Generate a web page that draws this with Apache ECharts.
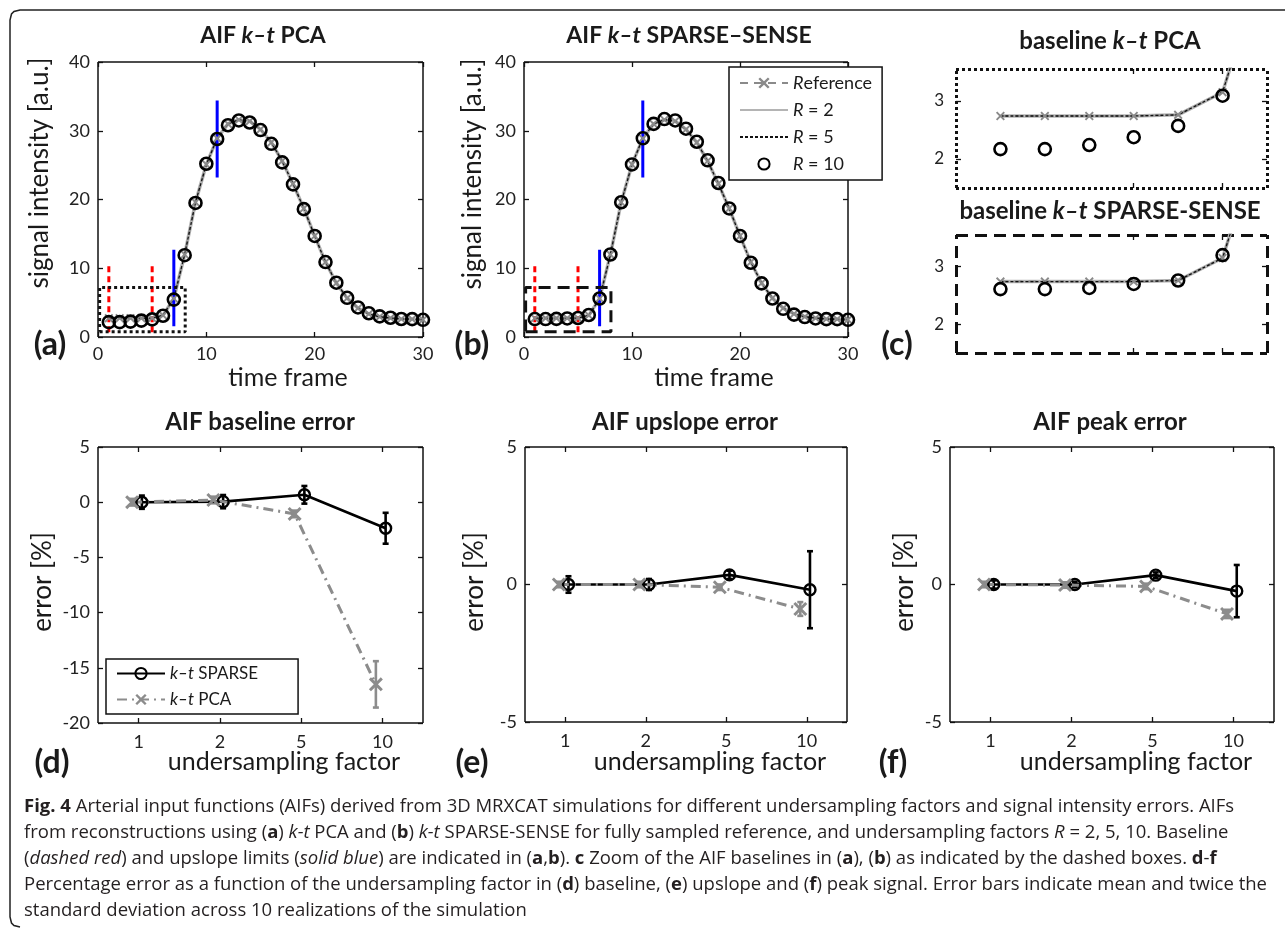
<!DOCTYPE html>
<html>
<head>
<meta charset="utf-8">
<script src="https://cdn.jsdelivr.net/npm/echarts@6/dist/echarts.min.js"></script>
<style>
html, body { margin: 0; padding: 0; background: #fff; }
#chart { width: 1285px; height: 929px; }
</style>
</head>
<body>
<div id="chart"></div>
<script>
// ---- AIF curves (panels a-c) ----
const frames = [1, 2, 3, 4, 5, 6, 7, 8, 9, 10, 11, 12, 13, 14, 15, 16, 17, 18, 19, 20, 21, 22, 23, 24, 25, 26, 27, 28, 29, 30];
// fully sampled reference; R = 2 and R = 5 lie on top of it
const refSignal = [2.74, 2.74, 2.74, 2.74, 2.76, 3.15, 5.6, 12.0, 19.6, 25.1, 28.9, 31.0, 31.6, 31.4, 30.2, 28.3, 25.6, 22.3, 18.7, 14.7, 10.9, 7.85, 5.65, 4.2, 3.35, 2.95, 2.75, 2.62, 2.6, 2.52];
const pcaR10 = [2.17, 2.17, 2.24, 2.375, 2.57, 3.09, 5.44, 11.9, 19.5, 25.2, 28.8, 30.8, 31.5, 31.2, 30.1, 28.1, 25.4, 22.2, 18.6, 14.7, 10.9, 7.9, 5.7, 4.3, 3.45, 3.0, 2.8, 2.62, 2.6, 2.5];
const sparseR10 = [2.61, 2.61, 2.63, 2.70, 2.76, 3.20, 5.6, 12.0, 19.6, 25.1, 28.9, 31.0, 31.7, 31.5, 30.3, 28.4, 25.7, 22.4, 18.7, 14.7, 10.8, 7.8, 5.6, 4.1, 3.25, 2.9, 2.7, 2.6, 2.6, 2.5];

const baselineFrames = [1, 5];
const baselineRange = [0.7, 10.3];
const upslopeFrames = [7, 11];
const upslopeRanges = [[1.55, 12.7], [23.2, 34.4]];
const zoomBoxX = [0.15, 8.05];
const zoomBoxY = [0.75, 7.2];

// ---- percentage errors (panels d-f) ----
const factors = ['1', '2', '5', '10'];
const baseSparseMean = [0, 0.05, 0.67, -2.36];
const baseSparseErr = [0.6, 0.6, 0.8, 1.4];
const basePcaMean = [0, 0.2, -1.06, -16.5];
const basePcaErr = [0.3, 0.3, 0.3, 2.1];
const upSparseMean = [0, 0, 0.35, -0.19];
const upSparseErr = [0.3, 0.2, 0.15, 1.4];
const upPcaMean = [0, 0, -0.1, -0.89];
const upPcaErr = [0.1, 0.1, 0.1, 0.25];
const peakSparseMean = [0, 0, 0.34, -0.24];
const peakSparseErr = [0.15, 0.1, 0.1, 0.95];
const peakPcaMean = [0, -0.02, -0.07, -1.07];
const peakPcaErr = [0.1, 0.1, 0.1, 0.15];

const FONT = 'Lato';
const CAPFONT = 'Open Sans';
const xSymbol = 'path://M0,1.5L1.5,0L5,3.5L8.5,0L10,1.5L6.5,5L10,8.5L8.5,10L5,6.5L1.5,10L0,8.5L3.5,5Z';

let grids = [], xAxes = [], yAxes = [], series = [];

function axisSpec(gi, pos, r, border, labelled) {
    let ax = {
        gridIndex: gi,
        type: 'value',
        position: pos,
        min: r.min,
        max: r.max,
        axisLine: { show: true, onZero: false, lineStyle: { color: '#111', width: border.width, type: border.type, cap: 'butt' } },
        axisTick: { show: true, inside: true, length: 5, lineStyle: { color: '#111', width: 1.3 } },
        axisLabel: { show: labelled, color: '#222', fontFamily: FONT, fontSize: r.fontSize || 18, margin: r.margin || 8 },
        splitLine: { show: false },
    };
    if (r.interval) ax.interval = r.interval;
    if (r.formatter) ax.axisLabel.formatter = r.formatter;
    if (r.ticks) {
        ax.axisTick.customValues = r.ticks;
        ax.axisLabel.customValues = r.ticks;
    }
    return ax;
}

function addPanel(rect, xr, yr, border) {
    let gi = grids.length;
    grids.push({ left: rect[0], top: rect[1], width: rect[2], height: rect[3] });
    let xi = xAxes.length, yi = yAxes.length;
    xAxes.push(axisSpec(gi, 'bottom', xr, border, xr.labels !== false));
    xAxes.push(axisSpec(gi, 'top', xr, border, false));
    yAxes.push(axisSpec(gi, 'left', yr, border, true));
    yAxes.push(axisSpec(gi, 'right', yr, border, false));
    return { xi: xi, yi: yi };
}

function pairs(xs, ys) {
    return xs.map(function (x, i) { return [x, ys[i]]; });
}

function aifSeries(p, r10) {
    let base = { type: 'line', xAxisIndex: p.xi, yAxisIndex: p.yi, silent: true, animation: false };
    // plain lines keep an invisible symbol so the legend shows only the line
    let noMark = { symbol: 'circle', showSymbol: false, itemStyle: { color: 'rgba(0,0,0,0)' } };
    series.push(Object.assign({}, base, noMark, {
        name: 'R = 2', data: pairs(frames, refSignal),
        lineStyle: { color: '#b4b4b4', width: 3.5 },
    }));
    series.push(Object.assign({}, base, {
        name: 'Reference', data: pairs(frames, refSignal), symbol: xSymbol, symbolSize: 9,
        lineStyle: { color: '#8a8a8a', width: 2, type: [8, 6] }, itemStyle: { color: '#8a8a8a' },
    }));
    series.push(Object.assign({}, base, noMark, {
        name: 'R = 5', data: pairs(frames, refSignal),
        lineStyle: { color: '#111', width: 1.3, type: [3, 2] },
    }));
    series.push(Object.assign({}, base, {
        name: 'R = 10', data: pairs(frames, r10), symbol: 'circle', symbolSize: 12,
        lineStyle: { width: 0, opacity: 0 },
        itemStyle: { color: 'rgba(0,0,0,0)', borderColor: '#000', borderWidth: 2.6 },
    }));
}

function limitLines(p) {
    baselineFrames.forEach(function (f) {
        series.push({
            type: 'line', xAxisIndex: p.xi, yAxisIndex: p.yi, silent: true, symbol: 'none',
            data: [[f, baselineRange[0]], [f, baselineRange[1]]],
            lineStyle: { color: '#ff0000', width: 3, type: [6, 4] },
        });
    });
    upslopeFrames.forEach(function (f, i) {
        series.push({
            type: 'line', xAxisIndex: p.xi, yAxisIndex: p.yi, silent: true, symbol: 'none',
            data: [[f, upslopeRanges[i][0]], [f, upslopeRanges[i][1]]],
            lineStyle: { color: '#0000ff', width: 3 },
        });
    });
}

function zoomBox(p, dash) {
    series.push({
        type: 'line', xAxisIndex: p.xi, yAxisIndex: p.yi, silent: true, symbol: 'none',
        data: [[zoomBoxX[0], zoomBoxY[0]], [zoomBoxX[1], zoomBoxY[0]], [zoomBoxX[1], zoomBoxY[1]],
               [zoomBoxX[0], zoomBoxY[1]], [zoomBoxX[0], zoomBoxY[0]]],
        lineStyle: { color: '#111', width: 3, type: dash },
    });
}

// panels a, b
const aifX = { min: 0, max: 30, interval: 10 };
const aifY = { min: 0, max: 40, interval: 10 };
const pA = addPanel([98, 62, 325, 275], aifX, aifY, { width: 1.5, type: 'solid' });
aifSeries(pA, pcaR10);
limitLines(pA);
zoomBox(pA, [3, 3]);

const pB = addPanel([524, 62, 324, 275], aifX, aifY, { width: 1.5, type: 'solid' });
aifSeries(pB, sparseR10);
limitLines(pB);
zoomBox(pB, [12, 7]);

// panel c: zoomed baselines
const zX = { min: 0, max: 7, ticks: [4, 6], labels: false };
const zY = { min: 1.5, max: 3.55, ticks: [2, 3], fontSize: 17, margin: 12 };
const pC1 = addPanel([956, 69, 311, 119], zX, zY, { width: 3, type: [3, 3] });
aifSeries(pC1, pcaR10);
const pC2 = addPanel([956, 235, 311, 118], zX, zY, { width: 3, type: [12, 7] });
aifSeries(pC2, sparseR10);

// panels d-f
function errorBars(p, xs, mean, err, color) {
    series.push({
        type: 'custom', xAxisIndex: p.xi, yAxisIndex: p.yi, silent: true,
        data: xs.map(function (x, i) { return [x, mean[i] - err[i], mean[i] + err[i]]; }),
        encode: { x: 0, y: [1, 2] },
        renderItem: function (params, api) {
            let lo = api.coord([api.value(0), api.value(1)]);
            let hi = api.coord([api.value(0), api.value(2)]);
            let st = { stroke: color, lineWidth: 2.6 };
            return {
                type: 'group',
                children: [
                    { type: 'line', shape: { x1: lo[0], y1: lo[1], x2: hi[0], y2: hi[1] }, style: st },
                    { type: 'line', shape: { x1: lo[0] - 3, y1: lo[1], x2: lo[0] + 3, y2: lo[1] }, style: st },
                    { type: 'line', shape: { x1: hi[0] - 3, y1: hi[1], x2: hi[0] + 3, y2: hi[1] }, style: st },
                ],
            };
        },
    });
}

function errorPanel(rect, yr, sMean, sErr, pMean, pErr) {
    let p = addPanel(rect, {
        min: 0.5, max: 4.5, ticks: [1, 2, 3, 4], margin: 10,
        formatter: function (v) { return factors[Math.round(v) - 1]; },
    }, yr, { width: 1.5, type: 'solid' });
    let xs = factors.map(function (f, i) { return i + 1.04; });
    let xp = factors.map(function (f, i) { return i + 0.92; });
    errorBars(p, xs, sMean, sErr, '#000');
    series.push({
        type: 'line', name: 'k–t SPARSE', xAxisIndex: p.xi, yAxisIndex: p.yi, silent: true,
        data: pairs(xs, sMean), symbol: 'circle', symbolSize: 11,
        lineStyle: { color: '#000', width: 2.6 },
        itemStyle: { color: 'rgba(0,0,0,0)', borderColor: '#000', borderWidth: 2.4 },
    });
    errorBars(p, xp, pMean, pErr, '#8c8c8c');
    series.push({
        type: 'line', name: 'k–t PCA', xAxisIndex: p.xi, yAxisIndex: p.yi, silent: true,
        data: pairs(xp, pMean), symbol: xSymbol, symbolSize: 14,
        lineStyle: { color: '#8c8c8c', width: 3, type: [10, 5, 2, 5] },
        itemStyle: { color: '#8c8c8c' },
    });
}

errorPanel([98, 447, 325, 276], { min: -20, max: 5, interval: 5 }, baseSparseMean, baseSparseErr, basePcaMean, basePcaErr);
errorPanel([525, 447, 322, 275], { min: -5, max: 5, interval: 5 }, upSparseMean, upSparseErr, upPcaMean, upPcaErr);
errorPanel([950, 447, 324, 275], { min: -5, max: 5, interval: 5 }, peakSparseMean, peakSparseErr, peakPcaMean, peakPcaErr);

// ---- texts ----
function txt(x, y, text, size, weight, opts) {
    opts = opts || {};
    let fam = opts.family || FONT;
    let col = opts.color || '#1a1a1a';
    return {
        type: 'text', x: x, y: y, rotation: opts.rotation || 0, silent: true,
        style: {
            text: text, fill: col, fontFamily: fam, fontSize: size,
            fontWeight: weight, align: opts.align || 'center', verticalAlign: 'middle',
            rich: {
                i: { fontStyle: 'italic', fontWeight: weight, fontSize: size, fontFamily: fam, fill: col },
                b: { fontWeight: 'bold', fontSize: size, fontFamily: fam, fill: col },
            },
        },
    };
}

const rot = { rotation: Math.PI / 2 };
const graphics = [
    { type: 'polyline', silent: true, shape: { points: [[1300, 10], [20, 10], [14, 11.5], [11.5, 14], [10, 20], [10, 917], [11.5, 923], [14, 925.5], [20, 927]] },
      style: { stroke: '#222', lineWidth: 1.5, fill: null } },
    txt(263, 36, 'AIF {i|k–t} PCA', 23, 'bold'),
    txt(689, 36, 'AIF {i|k–t} SPARSE–SENSE', 23, 'bold'),
    txt(1110, 41, 'baseline {i|k–t} PCA', 24, 'bold'),
    txt(1110, 211, 'baseline {i|k–t} SPARSE-SENSE', 24, 'bold'),
    txt(260, 422, 'AIF baseline error', 24, 'bold'),
    txt(685, 422, 'AIF upslope error', 24, 'bold'),
    txt(1110, 422, 'AIF peak error', 24, 'bold'),
    txt(40, 173, 'signal intensity [a.u.]', 26, 'normal', rot),
    txt(473, 174, 'signal intensity [a.u.]', 26, 'normal', rot),
    txt(43, 582, 'error [%]', 26, 'normal', rot),
    txt(475, 582, 'error [%]', 26, 'normal', rot),
    txt(905, 582, 'error [%]', 26, 'normal', rot),
    txt(288, 378, 'time frame', 25, 'normal'),
    txt(714, 378, 'time frame', 25, 'normal'),
    txt(284, 762, 'undersampling factor', 25, 'normal'),
    txt(710, 762, 'undersampling factor', 25, 'normal'),
    txt(1136, 762, 'undersampling factor', 25, 'normal'),
    txt(50, 345, '(a)', 32, 'bold'),
    txt(472, 345, '(b)', 32, 'bold'),
    txt(897, 345, '(c)', 32, 'bold'),
    txt(52, 763, '(d)', 32, 'bold'),
    txt(472, 763, '(e)', 32, 'bold'),
    txt(893, 763, '(f)', 32, 'bold'),
];

const captionLines = [
    '{b|Fig. 4} Arterial input functions (AIFs) derived from 3D MRXCAT simulations for different undersampling factors and signal intensity errors. AIFs',
    'from reconstructions using ({b|a}) {i|k-t} PCA and ({b|b}) {i|k-t} SPARSE-SENSE for fully sampled reference, and undersampling factors {i|R} = 2, 5, 10. Baseline',
    '({i|dashed red}) and upslope limits ({i|solid blue}) are indicated in ({b|a},{b|b}). {b|c} Zoom of the AIF baselines in ({b|a}), ({b|b}) as indicated by the dashed boxes. {b|d}-{b|f}',
    'Percentage error as a function of the undersampling factor in ({b|d}) baseline, ({b|e}) upslope and ({b|f}) peak signal. Error bars indicate mean and twice the',
    'standard deviation across 10 realizations of the simulation',
];
captionLines.forEach(function (line, i) {
    graphics.push(txt(24, 807 + i * 26, line, 18.5, 'normal', { align: 'left', family: CAPFONT, color: '#231f20' }));
});

const chart = echarts.init(document.getElementById('chart'));
chart.setOption({
    animation: false,
    backgroundColor: '#fff',
    grid: grids,
    xAxis: xAxes,
    yAxis: yAxes,
    legend: [
        {
            data: ['Reference', 'R = 2', 'R = 5', 'R = 10'],
            orient: 'vertical', left: 729, top: 67,
            itemWidth: 48, itemHeight: 14, itemGap: 9,
            padding: [7, 10, 7, 10],
            borderColor: '#111', borderWidth: 1.5, backgroundColor: '#fff',
            selectedMode: false,
            textStyle: { fontFamily: FONT, fontSize: 18, color: '#1a1a1a', rich: { i: { fontStyle: 'italic', fontFamily: FONT, fontSize: 18, color: '#1a1a1a' } } },
            formatter: function (name) { return name.replace('R', '{i|R}'); },
        },
        {
            data: ['k–t SPARSE', 'k–t PCA'],
            orient: 'vertical', left: 106, top: 659,
            itemWidth: 48, itemHeight: 14, itemGap: 9,
            padding: [6, 40, 6, 10],
            borderColor: '#111', borderWidth: 1.5, backgroundColor: '#fff',
            selectedMode: false,
            textStyle: { fontFamily: FONT, fontSize: 17, color: '#1a1a1a', rich: { i: { fontStyle: 'italic', fontFamily: FONT, fontSize: 17, color: '#1a1a1a' } } },
            formatter: function (name) { return name.replace('k–t', '{i|k–t}'); },
        },
    ],
    series: series,
    graphic: graphics,
});
window.addEventListener('resize', function () {
    chart.resize();
});
</script>
</body>
</html>
